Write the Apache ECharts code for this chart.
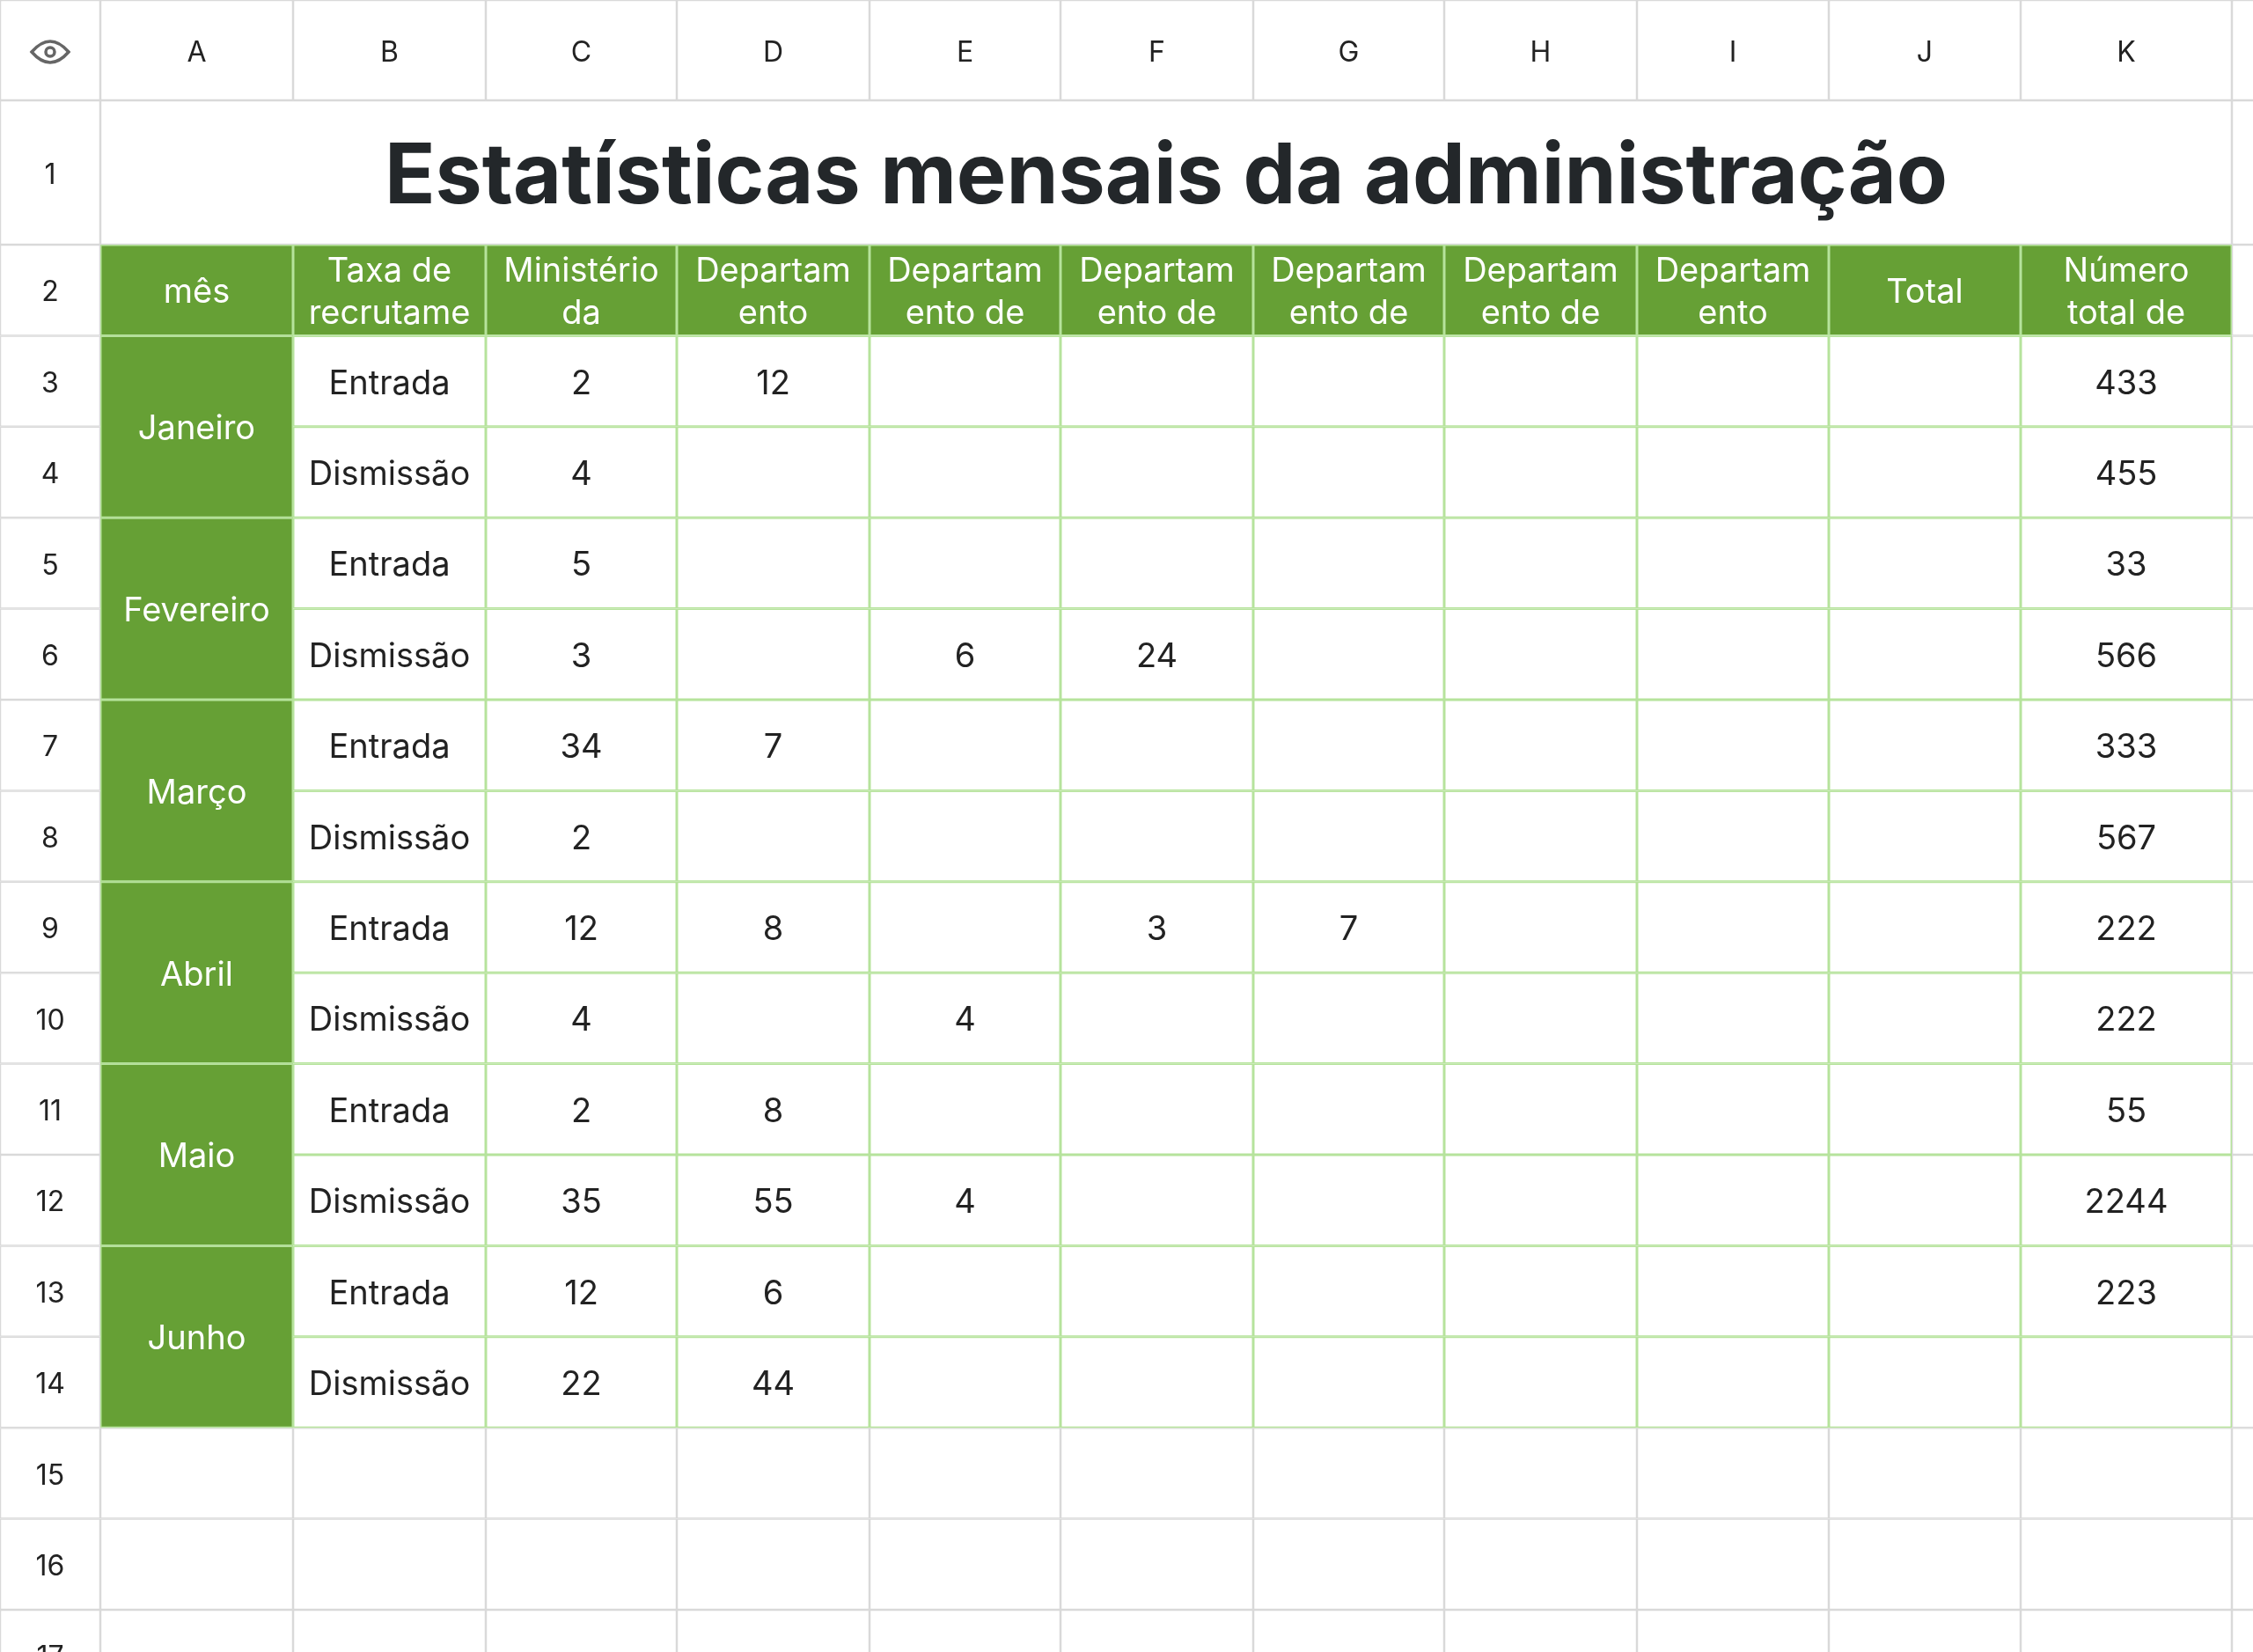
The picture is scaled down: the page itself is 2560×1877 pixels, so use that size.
<!DOCTYPE html>
<html>
<head>
<meta charset="utf-8">
<script src="https://cdn.jsdelivr.net/npm/echarts@6/dist/echarts.min.js"></script>
<style>html,body{margin:0;padding:0;background:#fff}#main{width:2560px;height:1877px}</style>
</head>
<body>
<div id="main"></div>
<script>
// dados da planilha
const title = 'Estatísticas mensais da administração';
const colLetters = ['A', 'B', 'C', 'D', 'E', 'F', 'G', 'H', 'I', 'J', 'K'];
const headers = ['mês', 'Taxa de\nrecrutame', 'Ministério\nda', 'Departam\nento', 'Departam\nento de', 'Departam\nento de',
  'Departam\nento de', 'Departam\nento de', 'Departam\nento', 'Total', 'Número\ntotal de'];
const months = ['Janeiro', 'Fevereiro', 'Março', 'Abril', 'Maio', 'Junho'];
const kinds = ['Entrada', 'Dismissão'];
const colC = [2, 4, 5, 3, 34, 2, 12, 4, 2, 35, 12, 22];
const colD = [12, null, null, null, 7, null, 8, null, 8, 55, 6, 44];
const colE = [null, null, null, 6, null, null, null, 4, null, 4, null, null];
const colF = [null, null, null, 24, null, null, 3, null, null, null, null, null];
const colG = [null, null, null, null, null, null, 7, null, null, null, null, null];
const colH = new Array(12).fill(null);
const colI = new Array(12).fill(null);
const colJ = new Array(12).fill(null);
const colK = [433, 455, 33, 566, 333, 567, 222, 222, 55, 2244, 223, null];

// layout
const W = 2560, H = 1877;
const colEdges = [0, 114, 333, 552, 769, 988, 1205, 1424, 1641, 1860, 2078, 2296, 2536, 2760];
const rowEdges = [0, 114, 278];
for (let i = 0; i < 16; i++) rowEdges.push(278 + 103.4 * (i + 1));

const GREEN = '#66a035', LINE_G = '#b6e39c', LINE = '#d9d9d9', TXT = '#222';
const FONT = 'Inter, Roboto, sans-serif';

const cells = []; // [c0, r0, c1, r1], text, kind
function add(c0, r0, c1, r1, text, kind) { cells.push({ value: [c0, r0, c1, r1], text: text, kind: kind }); }

// header row + row numbers
add(0, 0, 1, 1, '', 'eye');
colLetters.forEach((l, i) => add(i + 1, 0, i + 2, 1, l, 'hdr'));
add(12, 0, 13, 1, '', 'hdr');
for (let r = 1; r <= 17; r++) add(0, r, 1, r + 1, String(r), 'hdr');
// title row
add(1, 1, 12, 2, title, 'title');
add(12, 1, 13, 2, '', 'blank');
// table header
headers.forEach((h, i) => add(i + 1, 2, i + 2, 3, h, 'green'));
add(12, 2, 13, 3, '', 'blank');
// body
const cols = [colC, colD, colE, colF, colG, colH, colI, colJ, colK];
for (let i = 0; i < 12; i++) {
  const r = 3 + i;
  if (i % 2 === 0) add(1, r, 2, r + 2, months[i / 2], 'green');
  add(2, r, 3, r + 1, kinds[i % 2], 'body');
  cols.forEach((col, j) => add(3 + j, r, 4 + j, r + 1, col[i] == null ? '' : String(col[i]), 'body'));
  add(12, r, 13, r + 1, '', 'blank');
}
for (let r = 15; r <= 17; r++) for (let c = 1; c <= 12; c++) add(c, r, c + 1, r + 1, '', 'blank');

// gray cells first, green-bordered after
cells.sort((a, b) => (a.kind === 'body' || a.kind === 'green') - (b.kind === 'body' || b.kind === 'green'));

function renderItem(params, api) {
  const cell = cells[params.dataIndex];
  const p0 = api.coord([colEdges[api.value(0)], rowEdges[api.value(1)]]);
  const p1 = api.coord([colEdges[api.value(2)], rowEdges[api.value(3)]]);
  const x = p0[0], y = p0[1], w = p1[0] - p0[0], h = p1[1] - p0[1];
  const cx = x + w / 2, cy = y + h / 2;
  const green = cell.kind === 'body' || cell.kind === 'green';
  const children = [{
    type: 'rect', shape: { x: x, y: y, width: w, height: h },
    style: { fill: cell.kind === 'green' ? GREEN : '#fff', stroke: green ? LINE_G : LINE, lineWidth: green ? 3 : 2.5 }
  }];
  if (cell.kind === 'eye') {
    children.push({ type: 'path', shape: { pathData: 'M-21,0 Q0,-24 21,0 Q0,24 -21,0 Z', x: cx - 21, y: cy - 10, width: 42, height: 24 },
      style: { fill: 'none', stroke: '#666', lineWidth: 3.5 } });
    children.push({ type: 'circle', shape: { cx: cx, cy: cy + 2, r: 5 }, style: { fill: 'none', stroke: '#666', lineWidth: 3.5 } });
  }
  if (cell.text) {
    let size = 38, color = TXT, weight = 'normal', dy = 3;
    if (cell.kind === 'hdr') size = 32;
    if (cell.kind === 'green') color = '#fff';
    if (cell.kind === 'title') { size = 95; weight = 'bold'; color = '#23272a'; dy = 6; }
    children.push({
      type: 'text', x: cx, y: cy + dy,
      style: { text: cell.text, fill: color, font: weight + ' ' + size + 'px ' + FONT, align: 'center', verticalAlign: 'middle', lineHeight: 48 }
    });
  }
  return { type: 'group', children: children, clipPath: { type: 'rect', shape: { x: x, y: y, width: w, height: h } } };
}

const chart = echarts.init(document.getElementById('main'));
chart.setOption({
  animation: false,
  grid: { left: 0, right: 0, top: 0, bottom: 0 },
  xAxis: { type: 'value', min: 0, max: W, show: false },
  yAxis: { type: 'value', min: 0, max: H, inverse: true, show: false },
  series: [{ type: 'custom', renderItem: renderItem, data: cells.map(c => c.value), clip: true }]
});
</script>
</body>
</html>
